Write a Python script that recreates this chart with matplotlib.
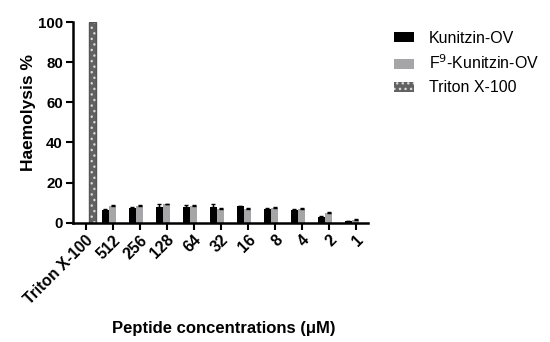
import numpy as np
import matplotlib
matplotlib.use("Agg")
import matplotlib.pyplot as plt

plt.rcParams['font.family'] = ['Liberation Sans', 'DejaVu Sans']

# data
categories = ["Triton X-100", "512", "256", "128", "64", "32", "16", "8", "4", "2", "1"]
kunitzin = [0, 6.3, 7.3, 8.0, 7.7, 7.7, 8.2, 6.8, 6.3, 2.8, 0.7]
kunitzin_err = [0, 0.4, 0.3, 1.5, 0.9, 1.4, 0.2, 0.3, 0.4, 0.3, 0.2]
f9_kunitzin = [0, 8.5, 8.5, 9.1, 8.5, 7.0, 6.8, 7.3, 6.8, 4.8, 1.5]
f9_err = [0, 0.4, 0.4, 0.2, 0.4, 0.4, 0.4, 0.5, 0.5, 0.4, 0.4]
triton = [100, 0, 0, 0, 0, 0, 0, 0, 0, 0, 0]

x = np.arange(len(categories))
w = 0.25
off = 0.27

fig = plt.figure(figsize=(5.5, 3.42), dpi=100)
ax = fig.add_axes([0.132, 0.349, 0.537, 0.586])

ekw = dict(elinewidth=1.0, capthick=1.0, ecolor='black')
ax.bar(x[1:] - off, kunitzin[1:], w, color='black', label='Kunitzin-OV',
       yerr=[np.zeros(len(x) - 1), kunitzin_err[1:]], capsize=1.2, error_kw=ekw)
ax.bar(x[1:], f9_kunitzin[1:], w, color='#a6a6a8', label='F$^{9}$-Kunitzin-OV',
       yerr=[np.zeros(len(x) - 1), f9_err[1:]], capsize=1.2, error_kw=ekw)
ax.bar(x[:1] + off, triton[:1], w, color='#626262', edgecolor='#d8d8d8',
       hatch='...', linewidth=0, label='Triton X-100')
ax.bar(x[:1] + off, triton[:1], w, fill=False, edgecolor='#555555', linewidth=1)

ax.set_xlim(-0.48, 10.45)
ax.set_ylim(0, 100)
ax.set_yticks([0, 20, 40, 60, 80, 100])
ax.set_xticks(x)
ax.set_xticklabels(categories, rotation=45, ha='right', rotation_mode='anchor',
                   fontsize=11.3, fontweight='bold')
for t in ax.get_yticklabels():
    t.set_fontweight('bold')
    t.set_fontsize(10.8)

for s in ['top', 'right']:
    ax.spines[s].set_visible(False)
for s in ['left', 'bottom']:
    ax.spines[s].set_linewidth(1.8)
ax.tick_params(width=1.5, length=5, pad=2)

ax.set_ylabel('Haemolysis %', fontsize=12.5, fontweight='bold')
ax.yaxis.set_label_coords(-0.125, 0.55)
fig.text(0.407, 0.04, 'Peptide concentrations (\u03bcM)', ha='center', va='center',
         fontsize=12, fontweight='bold')

fig.legend(loc='upper left', bbox_to_anchor=(0.716, 0.91), frameon=False,
           fontsize=11.5, borderpad=0, borderaxespad=0, handlelength=1.25,
           handleheight=0.55, handletextpad=0.95, labelspacing=0.5)

fig.savefig('out.png', dpi=100)
